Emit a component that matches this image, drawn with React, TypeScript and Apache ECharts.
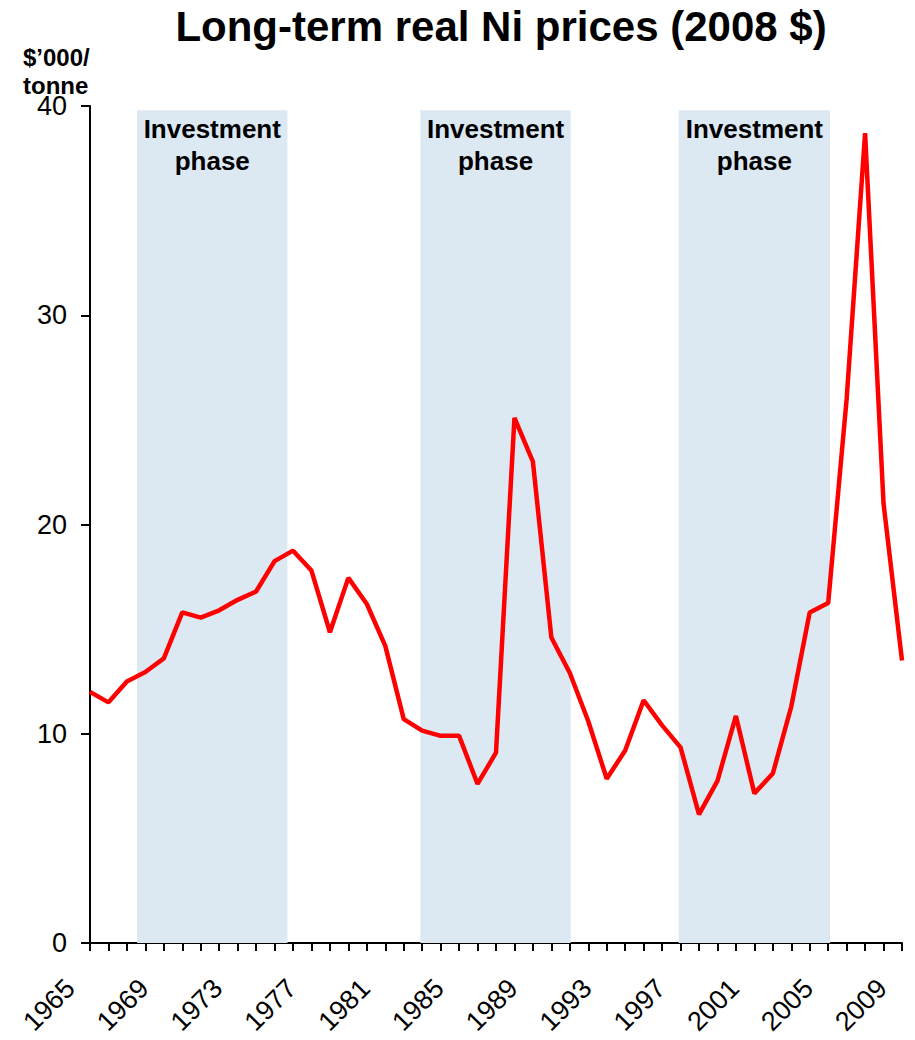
import React, { useEffect, useRef } from "react";
import * as echarts from "echarts";

const years = [
  1965, 1966, 1967, 1968, 1969, 1970, 1971, 1972, 1973, 1974,
  1975, 1976, 1977, 1978, 1979, 1980, 1981, 1982, 1983, 1984,
  1985, 1986, 1987, 1988, 1989, 1990, 1991, 1992, 1993, 1994,
  1995, 1996, 1997, 1998, 1999, 2000, 2001, 2002, 2003, 2004,
  2005, 2006, 2007, 2008, 2009,
];
const prices = [
  12.0, 11.5, 12.5, 12.95, 13.6, 15.8, 15.55, 15.9, 16.4, 16.8,
  18.25, 18.75, 17.8, 14.85, 17.45, 16.2, 14.2, 10.7, 10.15, 9.9,
  9.9, 7.6, 9.1, 25.1, 23.0, 14.6, 12.9, 10.6, 7.85, 9.2,
  11.6, 10.4, 9.35, 6.15, 7.75, 10.85, 7.15, 8.1, 11.3, 15.8,
  16.25, 26.0, 38.7, 21.0, 13.5,
];
const phaseStarts = [1967.55, 1982.9, 1996.9];
const phaseEnds = [1975.7, 1991.05, 2005.1];
const phaseLabel = "Investment\nphase";
const yTicks = { min: 0, max: 40, interval: 10 };

const FONT = "'Liberation Sans', Arial, Helvetica, sans-serif";

export default function App() {
  const ref = useRef<HTMLDivElement>(null);
  useEffect(() => {
    if (!ref.current) return;
    const chart = echarts.init(ref.current, null, { renderer: "svg" });
    const data = years.map((y, i) => [y, prices[i]]);
    const areas = phaseStarts.map((s, i) => [
      { name: phaseLabel, xAxis: s, yAxis: 0 },
      { xAxis: phaseEnds[i], yAxis: 39.8 },
    ]);
    chart.setOption({
      animation: false,
      backgroundColor: "#ffffff",
      textStyle: { fontFamily: FONT },
      grid: { left: 90, right: 13, top: 106, bottom: 97, containLabel: false },
      graphic: [
        {
          type: "text",
          x: 501,
          y: 26,
          style: {
            text: "Long-term real Ni prices (2008 $)",
            fontFamily: FONT,
            fontWeight: "bold",
            fontSize: 42,
            fill: "#000",
            textAlign: "center",
            textVerticalAlign: "middle",
          },
        },
        {
          type: "text",
          x: 23,
          y: 57,
          style: {
            text: "$’000/",
            fontFamily: FONT,
            fontWeight: "bold",
            fontSize: 24,
            fill: "#000",
            textAlign: "left",
            textVerticalAlign: "middle",
          },
        },
        {
          type: "text",
          x: 23,
          y: 85,
          style: {
            text: "tonne",
            fontFamily: FONT,
            fontWeight: "bold",
            fontSize: 24,
            fill: "#000",
            textAlign: "left",
            textVerticalAlign: "middle",
          },
        },
      ],
      xAxis: {
        type: "value",
        min: 1965,
        max: 2009,
        interval: 1,
        splitLine: { show: false },
        axisLine: { show: true, lineStyle: { color: "#000", width: 2 } },
        axisTick: { show: true, inside: false, length: 8, lineStyle: { color: "#000", width: 2 } },
        axisLabel: {
          show: true,
          rotate: 45,
          margin: 21,
          padding: [0, 28, 0, 0],
          fontSize: 27,
          fontFamily: FONT,
          color: "#000",
          showMinLabel: true,
          showMaxLabel: true,
          formatter: (v: number) => ((v - 1965) % 4 === 0 ? String(v) : ""),
        },
      },
      yAxis: {
        type: "value",
        min: yTicks.min,
        max: yTicks.max,
        interval: yTicks.interval,
        splitLine: { show: false },
        axisLine: { show: true, lineStyle: { color: "#000", width: 2 } },
        axisTick: { show: true, inside: false, length: 9, lineStyle: { color: "#000", width: 2 } },
        axisLabel: { margin: 23, fontSize: 27, fontFamily: FONT, color: "#000" },
      },
      series: [
        {
          type: "line",
          data,
          symbol: "none",
          lineStyle: { color: "#ff0000", width: 4.5 },
          z: 5,
          markArea: {
            silent: true,
            itemStyle: { color: "#dce9f3" },
            label: {
              show: true,
              position: "insideTop",
              distance: 3,
              fontFamily: FONT,
              fontWeight: "bold",
              fontSize: 26,
              lineHeight: 32,
              color: "#000",
            },
            data: areas,
          },
        },
      ],
    });
    return () => chart.dispose();
  }, []);
  return (
    <div
      ref={ref}
      style={{ position: "absolute", left: 0, top: 0, width: 915, height: 1040 }}
    />
  );
}
